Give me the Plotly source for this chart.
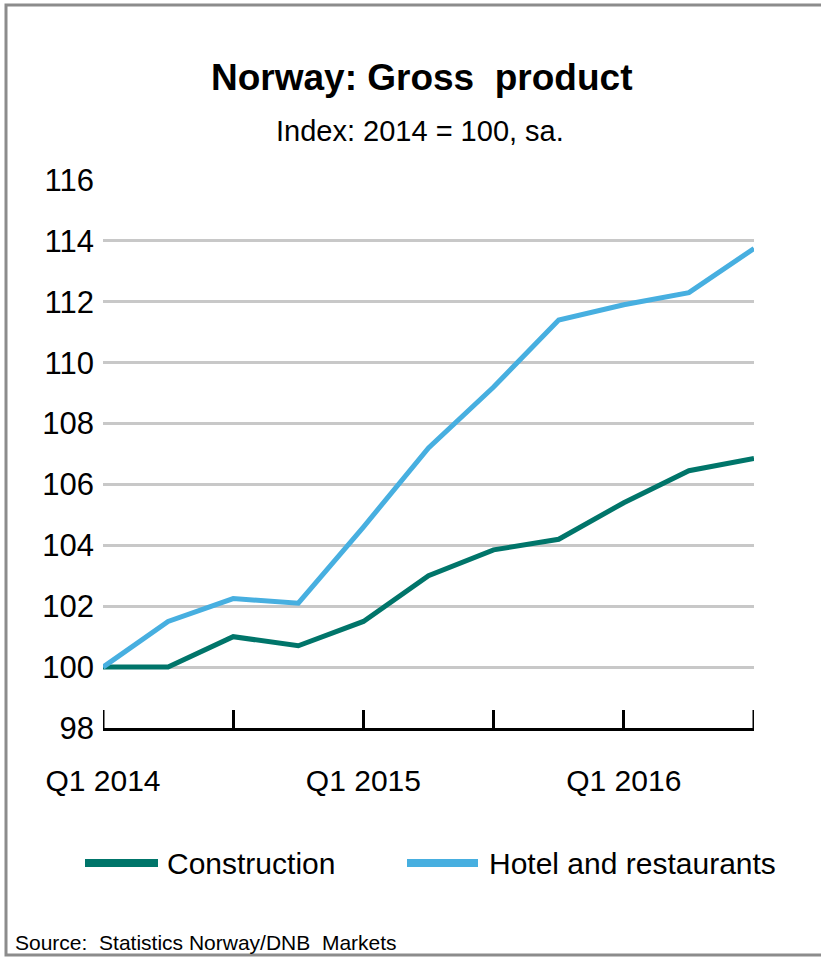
import plotly.graph_objects as go

quarters = ["Q1 2014", "Q2 2014", "Q3 2014", "Q4 2014",
            "Q1 2015", "Q2 2015", "Q3 2015", "Q4 2015",
            "Q1 2016", "Q2 2016", "Q3 2016"]
construction = [100.0, 100.0, 101.0, 100.7, 101.5, 103.0, 103.85, 104.2, 105.4, 106.45, 106.85]
hotel = [100.0, 101.5, 102.25, 102.1, 104.6, 107.2, 109.2, 111.4, 111.9, 112.3, 113.75]
tick_idx = [0, 2, 4, 6, 8, 10]
tick_text = ["Q1 2014", "", "Q1 2015", "", "Q1 2016", ""]
y_ticks = [98, 100, 102, 104, 106, 108, 110, 112, 114, 116]
series_names = ["Construction", "Hotel and restaurants"]
series_colors = ["#00756a", "#47afe0"]

FONT = "Liberation Sans Narrow, Arial Narrow, Liberation Sans, Arial, sans-serif"
W, H = 821, 957
L, R, T, B = 103, 67, 180, 229
pw, ph = W - L - R, H - T - B
TICKLEN = 18

def px(x):
    return (x - L) / pw

def py(y):
    return (H - B - y) / ph

x = list(range(len(quarters)))
fig = go.Figure()
for name, vals, col in zip(series_names, [construction, hotel], series_colors):
    fig.add_trace(go.Scatter(x=x, y=vals, mode="lines", name=name,
                             line=dict(color=col, width=5), showlegend=False,
                             hoverinfo="skip"))

fig.update_layout(
    width=W, height=H,
    margin=dict(l=L, r=R, t=T, b=B),
    paper_bgcolor="white", plot_bgcolor="white",
    font=dict(family=FONT, color="black", size=30),
    showlegend=False,
    xaxis=dict(range=[0, 10], tickmode="array", tickvals=tick_idx, ticktext=tick_text,
               showgrid=False, zeroline=False, showline=True, linecolor="black", linewidth=3,
               ticks="inside", ticklen=TICKLEN, tickwidth=3, tickcolor="black",
               tickfont=dict(size=30, family=FONT), ticklabelstandoff=24),
    yaxis=dict(range=[98, 116], tickmode="array", tickvals=y_ticks,
               showgrid=True, gridcolor="#c8c8c8", gridwidth=3, zeroline=False,
               showline=False, ticks="", tickfont=dict(size=31, family=FONT),
               ticklabelstandoff=8),
)

# end ticks of the x axis (plotly drops inside ticks at the range edges)
for tv in (tick_idx[0], tick_idx[-1]):
    fig.add_shape(type="line", xref="x", yref="paper", x0=tv, x1=tv,
                  y0=0, y1=TICKLEN / ph, line=dict(color="black", width=3))

# manual legend
legend_items = [(85, 158, 165), (407, 478, 487)]
for (x0, x1, xt), name, col in zip(legend_items, series_names, series_colors):
    fig.add_shape(type="line", xref="paper", yref="paper",
                  x0=px(x0), x1=px(x1), y0=py(863), y1=py(863),
                  line=dict(color=col, width=8))
    fig.add_annotation(text=name, xref="paper", yref="paper",
                       x=px(xt), y=py(863), xanchor="left", yanchor="middle",
                       showarrow=False, font=dict(size=30, family=FONT))

fig.add_annotation(text="<b>Norway: Gross  product</b>", xref="paper", yref="paper",
                   x=px(421), y=py(78), xanchor="center", yanchor="middle",
                   showarrow=False, font=dict(size=37, family=FONT))
fig.add_annotation(text="Index: 2014 = 100, sa.", xref="paper", yref="paper",
                   x=px(420), y=py(131), xanchor="center", yanchor="middle",
                   showarrow=False, font=dict(size=29, family=FONT))
fig.add_annotation(text="Source:  Statistics Norway/DNB  Markets", xref="paper", yref="paper",
                   x=px(13), y=py(942), xanchor="left", yanchor="middle",
                   showarrow=False, font=dict(size=21, family=FONT))

fig.add_shape(type="rect", xref="paper", yref="paper",
              x0=px(6), x1=px(850), y0=py(955), y1=py(5),
              line=dict(color="#8c8c8c", width=3), fillcolor="rgba(0,0,0,0)", layer="below")

fig.write_html("out.html", config={"displayModeBar": False},
               post_script="document.body.style.margin='0';"
                           "document.documentElement.style.overflow='hidden';")
